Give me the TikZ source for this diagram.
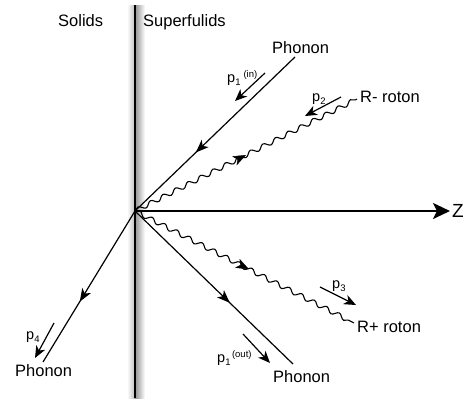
\documentclass[tikz,border=0pt]{standalone}
\usepackage{fontspec}
\setmainfont{Liberation Sans}
\usetikzlibrary{arrows.meta,decorations.pathmorphing,decorations.markings}
\newcommand\psub[1]{\raisebox{-3.5pt}{\fontsize{9.5}{10}\selectfont #1}}
\newcommand\psup[1]{\raisebox{5pt}{\fontsize{9.5}{10}\selectfont #1}}
\tikzset{
  lbl/.style={inner sep=0pt, anchor=base west, font=\fontsize{16.5}{18}\selectfont},
  plbl/.style={inner sep=0pt, anchor=base west, font=\fontsize{14.5}{16}\selectfont},
  thinline/.style={line width=1.2pt},
  wave/.style={line width=1.1pt, decorate, decoration={snake, segment length=14pt, amplitude=2.3pt}},
  midarrow/.style={decoration={markings, mark=at position #1 with {\arrow{Stealth[length=13pt,width=10pt,inset=3.5pt]}}}, postaction={decorate}},
  parrow/.style={line width=1.2pt, -{Stealth[length=12pt,width=10pt,inset=3.5pt]}}
}
\begin{document}
\begin{tikzpicture}[x=1pt,y=-1pt]
\useasboundingbox (0,0) rectangle (471,402);
% wall shadow
\shade[left color=white, right color=black!25] (127,5) rectangle (134.5,398);
\shade[left color=black!45, right color=white] (134.5,5) rectangle (145,398);
% coordinates
\coordinate (O) at (135,211);
\coordinate (wt) at (135,5);
\coordinate (wb) at (135,398);
\coordinate (A1) at (295,57);
\coordinate (A2) at (293,364);
\coordinate (A3) at (43,362);
\coordinate (R1) at (357,99);
\coordinate (R2) at (354,323);
\coordinate (Zend) at (450,211);
% wall
\draw[line width=2.6pt] (wt) -- (wb);
% Z axis
\draw[line width=2.4pt, -{Stealth[length=17pt,width=16pt,inset=4pt]}] (O) -- (Zend);
% phonon lines
\draw[thinline, midarrow=0.62] (A1) -- (O);
\draw[thinline, midarrow=0.6] (O) -- (A2);
\draw[thinline, midarrow=0.6] (O) -- (A3);
% roton waves
\draw[wave] (O) -- (R1);
\draw[wave] (O) -- (R2);
\path[midarrow=0.5] (O) -- (R1);
\path[midarrow=0.52] (O) -- (R2);
% momentum arrows
\coordinate (p1ia) at (265,73); \coordinate (p1ib) at (235,101);
\coordinate (p2a) at (341,97); \coordinate (p2b) at (305,116);
\coordinate (p3a) at (320,287); \coordinate (p3b) at (356,305);
\coordinate (p1oa) at (243,334); \coordinate (p1ob) at (270,363);
\coordinate (p4a) at (54,323); \coordinate (p4b) at (35,358);
\draw[parrow] (p1ia) -- (p1ib);
\draw[parrow] (p2a) -- (p2b);
\draw[parrow] (p3a) -- (p3b);
\draw[parrow] (p1oa) -- (p1ob);
\draw[parrow] (p4a) -- (p4b);
% texts
\node[lbl] (solids) at (58,26) {Solids};
\node[lbl] (superf) at (143,26) {Superfulids};
\node[lbl] (phtop) at (272,53) {Phonon};
\node[lbl] (rminus) at (360,102) {R- roton};
\node[lbl] (rplus) at (357,332) {R+ roton};
\node[lbl] (phbr) at (273,382) {Phonon};
\node[lbl] (phbl) at (15,376) {Phonon};
\node[lbl, font=\fontsize{19}{20}\selectfont] (zl) at (452,217) {Z};
\node[plbl] (lp1i) at (227,82) {p\psub{1}\hspace{3pt}\psup{(in)}};
\node[plbl] (lp2) at (312,101) {p\psub{2}};
\node[plbl] (lp3) at (332,288) {p\psub{3}};
\node[plbl] (lp1o) at (217,362) {p\psub{1}\hspace{1.5pt}\psup{(out)}};
\node[plbl] (lp4) at (26,339) {p\psub{4}};
\end{tikzpicture}
\end{document}
